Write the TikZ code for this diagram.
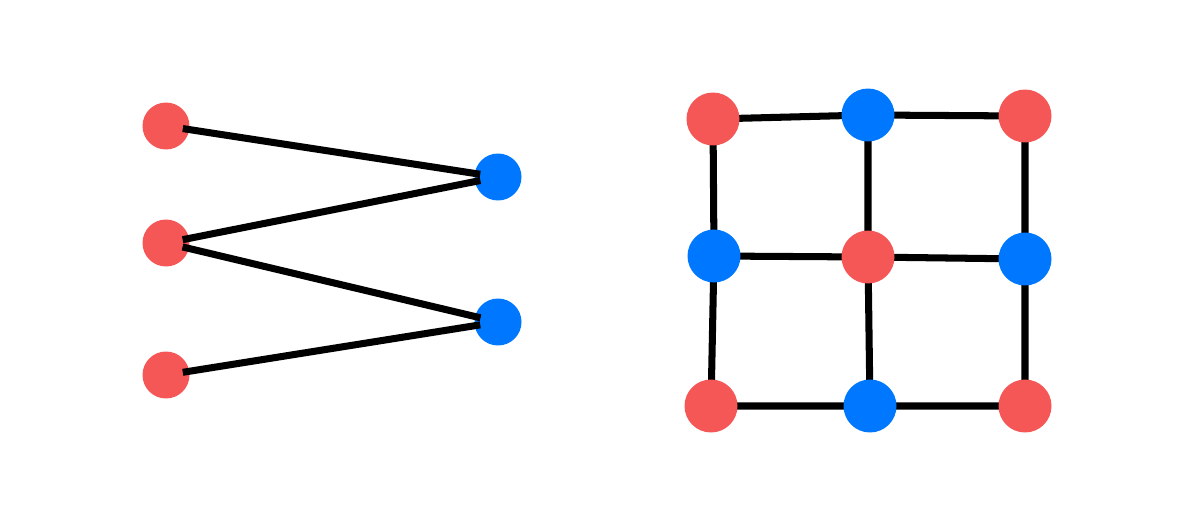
\documentclass[tikz,border=0pt]{standalone}
\usetikzlibrary{positioning}
\definecolor{dotred}{HTML}{F55656}
\definecolor{dotblue}{HTML}{0077FF}
\tikzset{
  rdot/.style={circle,fill=dotred,minimum size=0.94cm,inner sep=0pt},
  bdot/.style={circle,fill=dotblue,minimum size=0.94cm,inner sep=0pt},
  rdotb/.style={circle,fill=dotred,minimum size=1.06cm,inner sep=0pt},
  bdotb/.style={circle,fill=dotblue,minimum size=1.06cm,inner sep=0pt},
  edge/.style={line width=4pt,black},
  zig/.style={edge,shorten <=0.34cm,shorten >=0.36cm}
}
\begin{document}
\begin{tikzpicture}[x=0.02cm,y=-0.02cm]
  \useasboundingbox (0,0) rectangle (1200,513);
  % left picture
  \node[rdot] (L1) at (166,126) {};
  \node[rdot] (L2) at (166,243) {};
  \node[rdot] (L3) at (166,375) {};
  \node[bdot] (R1) at (498,177) {};
  \node[bdot] (R2) at (498,322) {};
  \draw[zig] (L1.center) -- (R1.center);
  \draw[zig] (L2.center) -- (R1.center);
  \draw[zig] (L2.center) -- (R2.center);
  \draw[zig] (L3.center) -- (R2.center);
  % right picture
  \draw[edge] (713,119) -- (868,115) -- (1025,116)
              (714,256) -- (868,257) -- (1025,259)
              (711,406) -- (870,406) -- (1025,406)
              (713,119) -- (714,256) -- (711,406)
              (868,115) -- (868,257) -- (870,406)
              (1025,116) -- (1025,259) -- (1025,406);
  \node[rdotb] (g11) at (713,119) {};
  \node[bdotb] (g12) at (868,115) {};
  \node[rdotb] (g13) at (1025,116) {};
  \node[bdotb] (g21) at (714,256) {};
  \node[rdotb] (g22) at (868,257) {};
  \node[bdotb] (g23) at (1025,259) {};
  \node[rdotb] (g31) at (711,406) {};
  \node[bdotb] (g32) at (870,406) {};
  \node[rdotb] (g33) at (1025,406) {};
\end{tikzpicture}
\end{document}
